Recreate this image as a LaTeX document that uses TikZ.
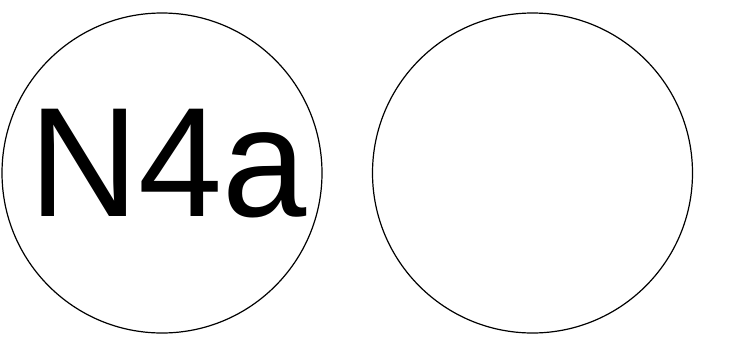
\documentclass[tikz,border=0pt]{standalone}
\usepackage{fontspec}
\setmainfont{Liberation Sans}
\usetikzlibrary{positioning}

\begin{document}
\begin{tikzpicture}[x=1pt,y=-1pt,
          ring/.style={circle,draw=black,line width=1.2pt,minimum size=320pt,
                       inner sep=0pt},
          tag/.style={inner sep=0pt,font=\fontsize{156}{156}\selectfont}]
        \useasboundingbox (0,0) rectangle (730,340);
        % Two equal rings side by side; only the left one carries a label.
        \node[ring] (left) at (162,173) {};
        \node[ring] (right) at (532.5,173) {};
        \node[tag,anchor=base west,xscale=0.97] (label) at (29,216) {N4a};
      \end{tikzpicture}
\end{document}
